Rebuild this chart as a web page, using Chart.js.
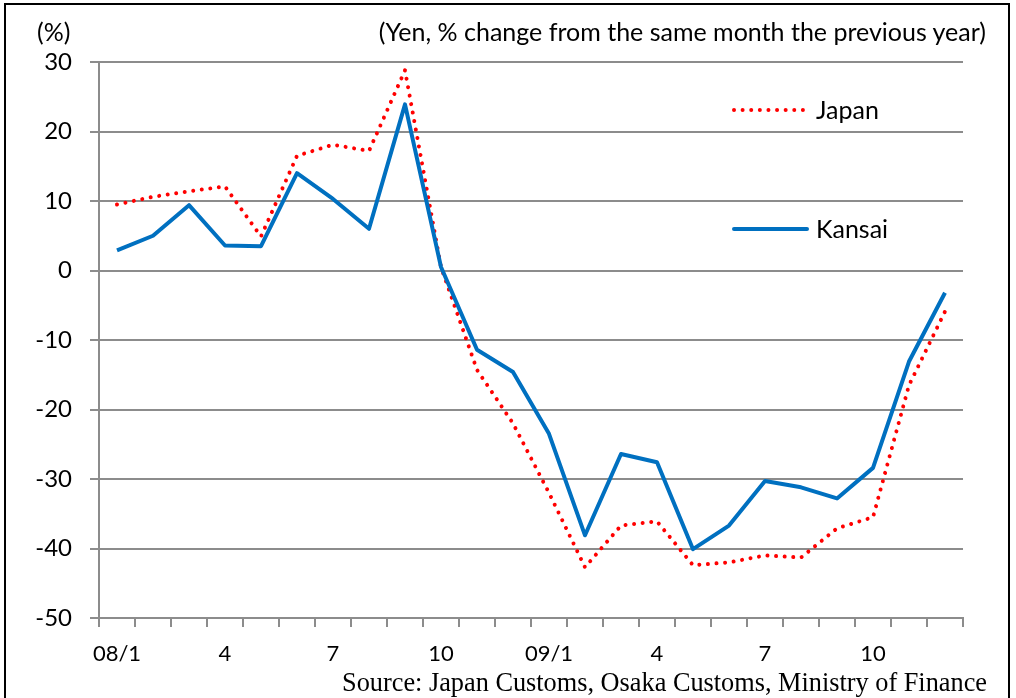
<!DOCTYPE html>
<html>
<head>
<meta charset="utf-8">
<script src="https://cdn.jsdelivr.net/npm/chart.js@4/dist/chart.umd.min.js"></script>
<style>
  html, body { margin: 0; padding: 0; background: #fff; }
  #wrap { position: relative; width: 1016px; height: 698px; overflow: hidden; }
  #frame { position: absolute; left: 4px; top: 3px; width: 1002px; height: 720px; border: 2.5px solid #000; }
  .note { position: absolute; font-family: Lato, sans-serif; font-size: 25px; color: #000; white-space: nowrap; }
  #unit { left: 37px; top: 16px; }
  #sub { right: 30px; top: 16px; }
  #source { right: 29px; top: 668px; font-family: "Liberation Serif", serif; font-size: 26.3px; }
</style>
</head>
<body>
<div id="wrap">
  <canvas id="myChart" width="1016" height="698"></canvas>
  <div id="frame"></div>
  <div class="note" id="unit">(%)</div>
  <div class="note" id="sub">(Yen, % change from the same month the previous year)</div>
  <div class="note" id="source">Source: Japan Customs, Osaka Customs, Ministry of Finance</div>
</div>
<script>
const ctx = document.getElementById('myChart');

const months = [
    "08/1", "2", "3", "4", "5", "6", "7", "8", "9", "10", "11", "12",
    "09/1", "2", "3", "4", "5", "6", "7", "8", "9", "10", "11", "12"
];
const japan = [9.5, 10.6, 11.4, 12.1, 4.9, 16.5, 18.1, 17.2, 28.8, 0.5, -14.3, -22.0,
    -32.0, -42.7, -36.7, -36.1, -42.4, -42.0, -41.0, -41.3, -37.1, -35.5, -16.5, -5.9];
const kansai = [2.9, 5.0, 9.4, 3.6, 3.5, 14.0, 10.3, 6.0, 23.9, 0.5, -11.4, -14.6,
    -23.5, -38.1, -26.4, -27.6, -40.1, -36.7, -30.3, -31.2, -32.8, -28.4, -13.1, -3.2];
const yTicks = [30, 20, 10, 0, -10, -20, -30, -40, -50];

const gridColor = '#8c8c8c';

// legend drawn inside the plot, like the original
const insideLegend = {
    id: 'insideLegend',
    afterDraw(chart) {
        const c = chart.ctx;
        const spots = [{ x: 732, y: 110 }, { x: 732, y: 229 }];
        chart.data.datasets.forEach((ds, i) => {
            const p = spots[i];
            c.save();
            c.strokeStyle = ds.borderColor;
            c.lineWidth = ds.borderWidth;
            c.lineCap = 'round';
            c.setLineDash(ds.borderDash || []);
            c.beginPath();
            c.moveTo(p.x + 2, p.y);
            c.lineTo(p.x + 75, p.y);
            c.stroke();
            c.setLineDash([]);
            c.fillStyle = '#000';
            c.font = '25px Lato';
            c.textBaseline = 'middle';
            c.fillText(ds.label, p.x + 84, p.y + 1);
            c.restore();
        });
    }
};

new Chart(ctx, {
    type: 'line',
    data: {
        labels: months,
        datasets: [{
            label: 'Japan',
            data: japan,
            borderColor: '#ff0000',
            borderWidth: 4,
            borderDash: [0.01, 8.6],
            borderCapStyle: 'round',
            pointRadius: 0,
            tension: 0,
            order: 2
        }, {
            label: 'Kansai',
            data: kansai,
            borderColor: '#0070c0',
            borderWidth: 4,
            borderJoinStyle: 'round',
            pointRadius: 0,
            tension: 0,
            order: 1
        }]
    },
    options: {
        responsive: false,
        animation: false,
        layout: { padding: { top: 62, right: 53, left: 0, bottom: 0 } },
        plugins: { legend: { display: false }, tooltip: { enabled: false } },
        scales: {
            x: {
                offset: true,
                grid: { offset: true, drawOnChartArea: false, drawTicks: true, tickLength: 9, color: gridColor, lineWidth: 2 },
                border: { color: gridColor, width: 2 },
                ticks: {
                    autoSkip: false, maxRotation: 0, padding: 14, color: '#000',
                    font: { family: 'Lato', size: 22 },
                    callback: (v, i) => (i % 3 === 0 ? months[i] : '')
                },
                afterFit: (s) => { s.height = 80; }
            },
            y: {
                min: -50, max: 30,
                afterBuildTicks: (s) => { s.ticks = yTicks.map(v => ({ value: v })); },
                grid: { color: gridColor, lineWidth: 2, tickLength: 9 },
                border: { color: gridColor, width: 2 },
                ticks: { padding: 18, color: '#000', font: { family: 'Lato', size: 24 } },
                afterFit: (s) => { s.width = 99; }
            }
        }
    },
    plugins: [insideLegend]
});
</script>
</body>
</html>
